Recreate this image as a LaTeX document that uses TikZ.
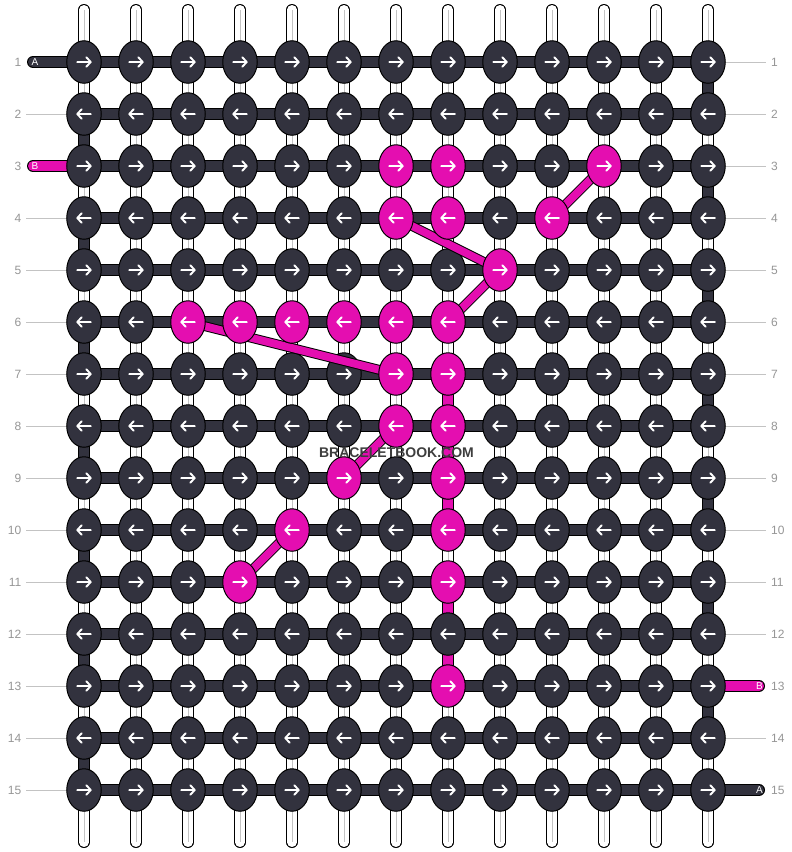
\documentclass[tikz,border=0pt]{standalone}
\usepackage{fontspec}
\setmainfont{Liberation Sans}
\usetikzlibrary{shapes.geometric}
\definecolor{knotdark}{RGB}{50,50,62}
\definecolor{knotpink}{RGB}{228,14,176}
\definecolor{labelgray}{RGB}{150,150,150}
\definecolor{guidegray}{RGB}{195,195,195}
\definecolor{stripgray}{RGB}{195,195,195}
\definecolor{wmgray}{RGB}{62,62,62}
\begin{document}
\begin{tikzpicture}[x=1pt,y=-1pt,
  wstrip/.style={line cap=round, preaction={draw=black, line width=11.5pt, line cap=round}, draw=white, line width=9.5pt,
     postaction={draw=stripgray, line width=0.9pt, line cap=butt}},
  darkv/.style={preaction={draw=black, line width=11.5pt}, draw=knotdark, line width=9.5pt},
  pinkv/.style={preaction={draw=black, line width=11.5pt}, draw=knotpink, line width=9.5pt},
  darkh/.style={preaction={draw=black, line width=12pt, line cap=round}, draw=knotdark, line width=10pt, line cap=round},
  pinkh/.style={preaction={draw=black, line width=12pt, line cap=round}, draw=knotpink, line width=10pt, line cap=round},
  pinkdiag/.style={preaction={draw=black, line width=9.8pt}, draw=knotpink, line width=7.8pt},
  guide/.style={draw=guidegray, line width=0.9pt},
  knotbase/.style={ellipse, draw=black, line width=1pt, minimum width=34.5pt, minimum height=42.5pt, inner sep=0pt, outer sep=0pt},
  darkknot/.style={knotbase, fill=knotdark},
  pinkknot/.style={knotbase, fill=knotpink},
  rowlab/.style={text=labelgray, font=\fontsize{12}{14}\selectfont, inner sep=0pt},
  leadlab/.style={text=white, font=\fontsize{10}{10}\selectfont, inner sep=0pt},
  arR/.pic={\draw[white, line width=1.9pt, line cap=round, line join=round] (-6.8,0) -- (6.8,0) (2.2,-4.8) -- (6.8,0) -- (2.2,4.8);},
  arL/.pic={\draw[white, line width=1.9pt, line cap=round, line join=round] (6.8,0) -- (-6.8,0) (-2.2,-4.8) -- (-6.8,0) -- (-2.2,4.8);}
]
\fill[white] (0,0) rectangle (792,852);
\useasboundingbox (0,0) rectangle (792,852);

% grid coordinates
\foreach \r in {1,...,15} {
  \foreach \c in {1,...,13} {
    \coordinate (p-\r-\c) at ({84+52*(\c-1)}, {62+52*(\r-1)});
  }
  \coordinate (gl-\r) at (26, {62+52*(\r-1)});
  \coordinate (gr-\r) at (766, {62+52*(\r-1)});
}
\foreach \c in {1,...,13} {
  \coordinate (t-\c) at ({84+52*(\c-1)}, 9.75);
  \coordinate (b-\c) at ({84+52*(\c-1)}, 842.25);
}
\coordinate (la) at (33,62);
\coordinate (lb) at (33,166);
\coordinate (rb) at (759,686);
\coordinate (ra) at (759,790);

% top and bottom strands
\foreach \c in {1,...,13} {
  \draw[wstrip] (t-\c) -- (p-1-\c);
  \draw[wstrip] (p-15-\c) -- (b-\c);
}

% vertical connectors between rows
\foreach \r in {1,...,14} {
  \foreach \c in {1,...,13} {
    \pgfmathtruncatemacro\rn{\r+1}
    \pgfmathtruncatemacro\isdark{or(and(\c==13,mod(\r,2)==1),and(\c==1,mod(\r,2)==0))}
    \pgfmathtruncatemacro\ispink{and(\c==8,or(and(\r>=7,\r<=9),and(\r>=11,\r<=12)))}
    \ifnum\isdark=1
      \draw[darkv] (p-\r-\c) -- (p-\rn-\c);
    \else
      \ifnum\ispink=1
        \draw[pinkv] (p-\r-\c) -- (p-\rn-\c);
      \else
        \draw[wstrip] (p-\r-\c) -- (p-\rn-\c);
      \fi
    \fi
  }
}

% guide lines to row labels
\foreach \r in {2,4,5,6,7,8,9,10,11,12,13,14,15} { \draw[guide] (gl-\r) -- (p-\r-1); }
\foreach \r in {1,2,3,4,5,6,7,8,9,10,11,12,14} { \draw[guide] (p-\r-13) -- (gr-\r); }

% horizontal bars
\foreach \r in {1,...,15} {
  \foreach \c in {1,...,12} {
    \pgfmathtruncatemacro\cn{\c+1}
    \draw[darkh] (p-\r-\c) -- (p-\r-\cn);
  }
}

% lead bars
\draw[darkh] (la) -- (p-1-1);
\draw[pinkh] (lb) -- (p-3-1);
\draw[pinkh] (p-13-13) -- (rb);
\draw[darkh] (p-15-13) -- (ra);

% pink knot set
\foreach \p in {3-7,3-8,3-11,4-7,4-8,4-10,5-9,6-3,6-4,6-5,6-6,6-7,6-8,7-7,7-8,8-7,8-8,9-6,9-8,10-5,10-8,11-4,11-8,13-8} {
  \expandafter\gdef\csname pk@\p\endcsname{}
}

% dark knots
\foreach \r in {1,...,15} {
  \foreach \c in {1,...,13} {
    \ifcsname pk@\r-\c\endcsname\else
      \node[darkknot] (k-\r-\c) at (p-\r-\c) {};
    \fi
  }
}

% pink diagonal connectors
\draw[pinkdiag] (p-3-11) -- (p-4-10);
\draw[pinkdiag] (p-4-7) -- (p-5-9);
\draw[pinkdiag] (p-5-9) -- (p-6-8);
\draw[pinkdiag] (p-6-3) -- (p-7-7);
\draw[pinkdiag] (p-8-7) -- (p-9-6);
\draw[pinkdiag] (p-10-5) -- (p-11-4);

% pink knots
\foreach \p in {3-7,3-8,3-11,4-7,4-8,4-10,5-9,6-3,6-4,6-5,6-6,6-7,6-8,7-7,7-8,8-7,8-8,9-6,9-8,10-5,10-8,11-4,11-8,13-8} {
  \node[pinkknot] (k-\p) at (p-\p) {};
}

% arrows
\foreach \r in {1,...,15} {
  \foreach \c in {1,...,13} {
    \ifodd\r
      \pic at (k-\r-\c) {arR};
    \else
      \pic at (k-\r-\c) {arL};
    \fi
  }
}

% row labels
\foreach \r in {1,...,15} {
  \node[rowlab, anchor=east] (ll-\r) at (21.5, {62+52*(\r-1)}) {\r};
  \node[rowlab, anchor=west] (rl-\r) at (771, {62+52*(\r-1)}) {\r};
}

% lead labels
\node[leadlab] (labA1) at (35,62) {A};
\node[leadlab] (labB1) at (35,166) {B};
\node[leadlab] (labB2) at (759.5,686) {B};
\node[leadlab] (labA2) at (759.5,790) {A};

% watermark
\node[font=\bfseries\fontsize{14}{14}\selectfont, text=wmgray, anchor=base, inner sep=0pt] (wm) at (396.5,457.3) {BRACELETBOOK.COM};
\end{tikzpicture}
\end{document}
